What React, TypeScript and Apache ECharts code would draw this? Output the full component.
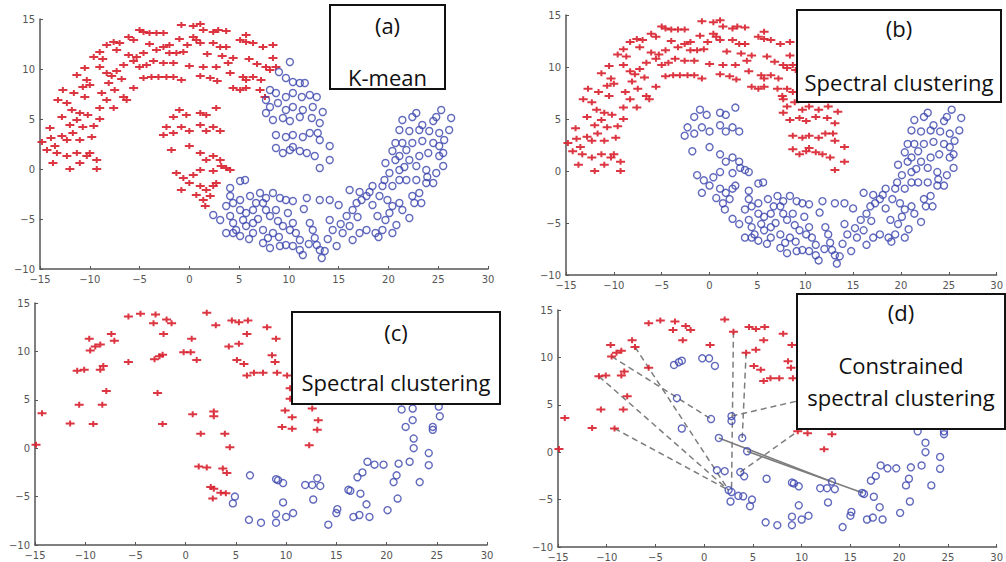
import React, { useEffect, useRef } from "react";
import * as echarts from "echarts";

// ---- Data (panels a & b share one two-moons data set) ----
const upperLeft: number[][] = [
  [-4.6,13.7],[-4,13.6],[-3.3,13.6],[-2.6,13.6],[-0.8,14.4],[0.4,14.3],[1.1,14.5],[1.4,13.9],[2.4,13.7],[2.9,13.9],[3.7,13.8],[5.7,13.4],
  [0.4,13.2],[0.7,12.9],[1.1,12.6],[2.4,12.6],[3.1,12.2],[3.7,12.2],[5.1,12.9],[5.7,12.7],[6.4,12.6],[7.4,12.2],[8.4,12.4],[-6.1,13.2],
  [-5.6,12.9],[-7,12.6],[-7.6,12.7],[-8.3,12.4],[-7.3,11.9],[-9,11.7],[-9.6,11.2],[-6.1,11.4],[-5.3,11.2],[-4.6,11.6],[-3.3,11.9],[-2.6,12.2],
  [-2,12.4],[-2,11.6],[-1.3,11.6],[-0.6,11.7],[-1.6,10.6],[-2.6,10.6],[-3.6,10.8],[-4.3,10.4],[-5,10.2],[-5.6,10.8],[-6.6,10.4],[-7.3,9.8],
  [-7.8,9.3],[-8.3,9.6],[-9,10.2],[-10.5,10.1],[-11.3,9.4],[-10.3,8.9],[-10,8.4],[-10.7,8.2],[-12.7,7.9],[-13.2,6.9],[-12.3,6.6],[-11.8,5.9],
  [-11,5.6],[-10.2,5.4],[-11.3,4.9],[-10.7,4.2],[-11.7,3.6],[-11,2.9],[-12.3,2.9],[-14,4.1],[-14.8,2.7],[-14.3,1.9],[-13.3,1.6],[-13.7,0.6],
  [-12.3,1.3],[-11.3,1.6],[-10.3,1.3],[-11,0.6],[-10,1.6],[-9.3,0.9],[-12,0],[-9.3,0],[-9,6.1],[-8.3,6.9],[-7.6,6.1],[-9,5],[-8.1,8.6],
  [-7.5,7.9],[-6.6,7.2],[-6.3,6.9],[-5.6,8.1],[-4.6,9.1],[-3.8,9.2],[-3.1,9.2],[-2.3,9.2],[-1.6,9.2],[-0.8,8.9],[1.1,9.3],[2.1,9.1],
  [1.4,10.2],[2.7,10.2],[3.9,10.6],[4.4,11.1],[4.1,9.6],[5.4,9.2],[5.7,8.9],[6.4,9.2],[7.2,8.9],[7.7,10.2],[8.1,9.9],[8.7,10.2],[8.4,11.1],
  [4.4,8.1],[5.1,7.9],[5.7,8.1],[7.1,7.9],[7.6,7.2],[-12.8,5.2],[-13.5,2.3],[-12.8,3.3],[-9.8,3.2],[-10.5,7.2],[-8.8,7.6],[-6.8,9.0],
  [-4.0,12.5],[-1.0,13.0],[0.0,10.3],[3.3,11.3],[6.0,11.0],[6.8,10.5],[-11.6,7.6],[-12.0,4.4],[-9.6,4.3],[-13.9,3.1],[-8.7,11.0],[-5.0,13.9],
  [1.8,11.5],[2.8,8.8],[-0.2,12.4]
];
const lowerTip: number[][] = [
  [-1,5.9],[-0.3,5.4],[1.1,5.6],[1.7,5.4],[2.7,6.1],[-1.6,5.2],[-2.3,4.2],[-2.6,3.4],[-1.6,3.6],[-0.8,4.2],[0,3.8],[1.1,4.4],[1.7,3.8],
  [2.4,4.2],[3.1,3.8],[-1.8,1.9],[0,2.3],[1.1,1.6],[1.7,0.9],[2.4,1.3],[3.1,0.9],[3.2,0.3],[4.1,-0.1],[-1.3,-0.4],[-0.6,-0.9],[0.4,-0.6],
  [1.1,-0.1],[2.4,-0.2],[0,-1.4],[1.1,-1.7],[1.7,-2.1],[2.4,-1.7],[-0.8,-2.1],[0.7,-2.6],[1.4,-3.1],[2.1,-2.7],[1.6,-3.7],[2.7,-1.4],[3.7,0.1]
];
const upperRight: number[][] = [
  [10.1,10.7],[9,9.7],[9.7,9.1],[10.4,8.7],[11.1,8.6],[11.6,8.6],[8.1,7.9],[8.7,7.6],[9.7,7.2],[10.4,7.6],[11.3,7.2],[12.1,7.4],[12.8,7.2],
  [7.7,6.9],[8.1,6.2],[8.9,6.6],[9.7,5.9],[10.4,6.2],[11.4,5.9],[12.4,6.2],[13.4,5.7],[7.7,5.6],[8.4,4.9],[9.4,5.1],[10.1,4.8],[11.1,5.2],
  [12.3,5.1],[13.1,4.6],[8.7,3.4],[9.7,3.2],[10.4,3.4],[11.4,3.2],[12.1,3.6],[12.9,3.6],[13.1,2.9],[8.7,2.1],[9.4,1.6],[10.1,1.9],[11.1,1.8],
  [11.8,1.6],[12.6,1.3],[14.1,2.3],[14.1,0.9],[13.1,0.1],[10.4,2.2]
];
const lowerMain: number[][] = [
  [4.1,-1.9],[5.1,-1.2],[5.6,-1.1],[4.1,-2.7],[4.4,-3.4],[3.7,-3.7],[5.1,-3.1],[6.1,-2.7],[7.1,-2.4],[7.7,-2.9],[8.4,-2.4],[9.1,-2.9],
  [9.7,-3.1],[10.4,-3.2],[6.7,-3.4],[7.4,-3.4],[5.1,-4.1],[5.7,-4.4],[6.4,-4.1],[7.7,-4.1],[8.7,-4.1],[8.1,-4.7],[2.4,-4.6],[3.1,-5.1],
  [4.1,-4.7],[4.4,-5.4],[5.4,-5.1],[5.7,-5.7],[6.4,-6.4],[3.7,-6.4],[4.4,-6.4],[5.1,-6.7],[4.7,-6.1],[6.4,-5.4],[7.4,-6.1],[8.4,-6.4],
  [9.4,-5.7],[10.4,-5.4],[10.1,-6.1],[10.7,-6.4],[11.1,-7.1],[10.4,-7.7],[7.4,-7.4],[8.1,-7.9],[9.1,-7.7],[9.7,-7.6],[11.1,-8.1],[11.4,-8.6],
  [12.1,-5.4],[12.6,-6.9],[12.8,-7.6],[13.1,-8.1],[13.3,-8.9],[13.6,-8.2],[12.4,-6.1],[13.1,-3.1],[14.1,-3.1],[14.1,-5.1],[14.4,-6.1],
  [14.8,-7.7],[15.4,-6.4],[15.8,-4.7],[16.4,-4.1],[16.1,-5.7],[16.4,-7.1],[17.1,-6.4],[17.8,-6.1],[16.8,-3.4],[17.3,-3.1],[17.8,-2.7],
  [16.1,-2.1],[17.1,-2.3],[18.1,-2.3],[18.4,-3.6],[19.1,-2.7],[18.7,-6.4],[19.4,-6.1],[20.4,-6.4],[19.7,-5.1],[20.1,-4.4],[20.4,-3.7],
  [21.1,-3.4],[21.4,-4.1],[22.1,-4.9],[19.9,-3.1],[19.4,-1.7],[20.4,-1.7],[21.1,-1.1],[20.1,-0.4],[19.7,0.6],[20.7,0.9],[21.1,-0.1],
  [21.8,-1.1],[22.8,-1.1],[23.8,-1.4],[23.1,-2.4],[22.4,-2.7],[24.5,-1.4],[24.8,-0.4],[25.5,0.3],[23.8,-0.1],[22.8,0.3],[22.1,0.9],
  [23.1,1.3],[21.1,1.3],[21.8,1.9],[20.7,2.6],[21.4,2.6],[22.4,2.6],[23.4,2.8],[24.5,2.6],[25.1,2.3],[25.5,1.6],[25.1,1.3],[21.1,3.9],
  [22.1,3.8],[23.1,3.9],[24.1,3.8],[25.1,3.6],[26.1,3.9],[21.4,4.9],[22.4,5.2],[23.4,4.4],[24.5,4.8],[25.3,5.9],[26.3,5.1],[22.8,5.6],
  [24.8,5.2],[20.4,1.8],[19.6,-1.1],[18.4,-1.7],[6.9,-5.0],[8.9,-5.2],[9.9,-4.4],[11.5,-4.0],[12.0,-7.5],[13.9,-7.0],[15.2,-5.5],
  [16.9,-4.8],[18.9,-4.7],[19.0,-6.8],[20.8,-5.6],[22.6,-3.4],[23.9,-0.8],[25.6,2.9],[24.0,1.6],[23.3,-3.4],[7.9,-6.9],[6.0,-7.0],
  [9.0,-6.8],[11.8,-2.9],[15.0,-3.6],[21.6,0.2]
];

// ---- Data (panels c & d share one sparser data set) ----
const cdUpper: number[][] = [
  [-14.3,3.6],[-14.9,0.35],[-11.5,2.55],[-9.2,2.5],[-10.6,4.5],[-10.8,8.0],[-10.1,8.1],[-9.6,11.3],[-9.5,10.1],[-9.0,10.5],[-8.5,10.7],
  [-8.5,8.1],[-8.2,8.5],[-8.3,4.5],[-7.9,5.9],[-7.4,11.8],[-7.1,11.1],[-5.7,13.6],[-5.7,8.9],[-4.5,13.9],[-3.0,13.8],[-3.2,12.9],
  [-2.2,11.8],[-1.9,13.3],[-1.4,12.9],[0.6,11.3],[2.1,14.0],[3.0,12.7],[4.3,10.5],[4.6,13.2],[5.3,13.0],[5.3,10.8],[6.2,13.2],[5.1,9.1],
  [6.1,11.8],[5.8,8.7],[6.1,7.5],[6.8,7.8],[7.7,7.8],[8.1,12.5],[8.6,9.6],[8.9,8.9],[9.1,7.8],[9.0,11.3],[10.1,7.5],[10.4,6.2],[10.4,5.1],
  [9.9,3.9],[10.6,3.2],[9.6,2.2],[10.6,2.0],[12.3,0.3],[12.6,4.1],[13.2,2.9],[13.1,1.9]
];
const cdInner: number[][] = [
  [-3.1,9.2],[-2.6,9.5],[-2.3,9.65],[-0.2,9.9],[0.5,9.9],[1.1,9.1],[-2.8,5.7],[-2.3,2.5],[0.7,3.5],[1.5,1.5],[2.8,3.8],[2.8,3.3],
  [3.9,1.5],[4.4,0.1],[1.3,-1.9],[2.1,-2.0],[3.7,-2.1],[4.1,-2.55],[2.5,-4.0],[2.8,-4.2],[3.5,-4.6],[4.0,-4.65],[2.7,-5.2]
];
const cdLower: number[][] = [
  [6.4,-2.8],[4.9,-5.0],[4.7,-5.7],[6.3,-7.4],[7.5,-7.7],[9.0,-3.2],[9.2,-3.3],[9.7,-3.6],[9.7,-5.6],[9.0,-6.8],[9.0,-7.7],[10.0,-7.1],
  [10.7,-6.7],[11.9,-3.8],[12.6,-3.8],[13.1,-3.1],[13.4,-3.9],[12.7,-5.3],[14.2,-7.9],[15.1,-6.3],[15.0,-6.7],[16.2,-4.3],[16.4,-4.4],
  [17.4,-4.7],[16.7,-7.1],[17.3,-6.9],[18.3,-7.1],[18.0,-5.8],[17.1,-3.0],[17.6,-2.5],[18.1,-1.4],[18.8,-1.7],[19.7,-1.7],[20.1,-6.4],
  [20.7,-3.5],[21.0,-2.8],[21.2,-1.6],[21.1,-5.2],[22.3,-1.4],[22.7,0.0],[22.7,1.0],[21.9,2.2],[22.6,2.9],[21.5,4.0],[22.6,4.1],
  [23.3,-3.5],[24.2,-1.75],[24.2,-0.5],[24.6,2.2],[24.6,1.9],[25.3,3.3],[25.2,4.3]
];
// constraint links drawn in panel (d)
const dashedLinks: number[][][] = [
  [[-7.1,11.1],[2.5,-4.0]],[[-9.5,10.1],[0.7,3.5]],[[-10.8,8.0],[2.5,-4.0]],[[-9.2,2.5],[2.5,-4.0]],
  [[3.0,12.7],[2.8,-4.2]],[[4.3,10.5],[3.9,1.5]],[[3.7,-2.1],[9.6,2.2]],[[2.8,3.8],[10.4,5.6]]
];
const solidLinks: number[][][] = [
  [[1.5,1.5],[13.1,-3.1]],[[4.4,0.1],[16.3,-4.3]]
];

const xTicks = { min: -15, max: 30, interval: 5 };
const yTicks = { min: -10, max: 15, interval: 5 };

const panelTitles = [
  ["(a)", "K-mean"],
  ["(b)", "Spectral clustering"],
  ["(c)", "Spectral clustering"],
  ["(d)", "Constrained", "spectral clustering"],
];

const RED = "#d7202c";
const BLUE = "#3a44ac";
const PLUS = "path://M0,2H9V4H0Z M3.5,0H5.5V6H3.5Z";

const fmt = (v: number) => (v < 0 ? "\u2212" + Math.abs(v) : String(v));

export default function App() {
  const ref = useRef<HTMLDivElement>(null);
  useEffect(() => {
    if (!ref.current) return;
    const chart = echarts.init(ref.current, undefined, { renderer: "svg" });
    const grids = [
      { left: 40, top: 19, width: 448, height: 250 },
      { left: 566, top: 15, width: 432, height: 260 },
      { left: 35, top: 303, width: 452, height: 242 },
      { left: 558, top: 310, width: 442, height: 238 },
    ];
    const axisCommon = {
      type: "value" as const,
      splitLine: { show: false },
      axisLine: { show: true, onZero: false, lineStyle: { color: "#555", width: 1.5 } },
      axisTick: { show: true, inside: true, length: 3, lineStyle: { color: "#555" } },
      axisLabel: { fontSize: 10, color: "#555", fontFamily: "DejaVu Sans", formatter: fmt },
    };
    const xAxis = grids.map((_, i) => ({ ...axisCommon, gridIndex: i, ...xTicks, axisLabel: { ...axisCommon.axisLabel, margin: 5 } }));
    const yAxis = grids.map((_, i) => ({ ...axisCommon, gridIndex: i, ...yTicks, axisLabel: { ...axisCommon.axisLabel, margin: 5 } }));

    const red = (i: number, data: number[][]) => ({
      type: "scatter", xAxisIndex: i, yAxisIndex: i, data, symbol: PLUS, symbolSize: [9, 6], z: 3,
      itemStyle: { color: RED, opacity: 0.9 },
    });
    const blue = (i: number, data: number[][]) => ({
      type: "scatter", xAxisIndex: i, yAxisIndex: i, data, symbol: "circle", symbolSize: 7, z: 3,
      itemStyle: { color: "rgba(255,255,255,0)", borderColor: BLUE, borderWidth: 1.4 },
    });
    const links = (data: number[][][], dashed: boolean) => ({
      type: "lines", coordinateSystem: "cartesian2d", xAxisIndex: 3, yAxisIndex: 3, z: 2,
      data: data.map((c) => ({ coords: c })),
      lineStyle: { color: "#7d7d7d", width: 1.5, type: dashed ? [6, 4] : "solid", opacity: 1 },
    });

    const series = [
      red(0, [...upperLeft, ...lowerTip]), blue(0, [...upperRight, ...lowerMain]),
      red(1, [...upperLeft, ...upperRight]), blue(1, [...lowerTip, ...lowerMain]),
      red(2, [...cdUpper, ...cdInner]), blue(2, cdLower),
      links(dashedLinks, true), links(solidLinks, false),
      red(3, cdUpper), blue(3, [...cdInner, ...cdLower]),
    ];

    const boxes = [
      { x: 330, y: 5, w: 115, h: 84, lines: [25, 77] },
      { x: 797, y: 10, w: 204, h: 92, lines: [28, 82] },
      { x: 292, y: 312, w: 208, h: 92, lines: [332, 382] },
      { x: 797, y: 294, w: 208, h: 135, lines: [312, 365, 397] },
    ];
    const graphic: any[] = [];
    boxes.forEach((b, i) => {
      graphic.push({
        type: "rect", z: 100, shape: { x: b.x, y: b.y, width: b.w, height: b.h },
        style: { fill: "#fff", stroke: "#111", lineWidth: 2 },
      });
      panelTitles[i].forEach((t, k) => {
        graphic.push({
          type: "text", z: 101, x: b.x + b.w / 2, y: b.lines[k],
          style: { text: t, fill: "#111", font: "22px 'Open Sans'", align: "center", verticalAlign: "middle" },
        });
      });
    });

    chart.setOption({
      animation: false,
      backgroundColor: "#fff",
      grid: grids.map((g) => ({ ...g, containLabel: false })),
      xAxis, yAxis, series, graphic,
    });
    return () => chart.dispose();
  }, []);
  return <div ref={ref} style={{ position: "absolute", left: 0, top: 0, width: 1006, height: 562 }} />;
}
